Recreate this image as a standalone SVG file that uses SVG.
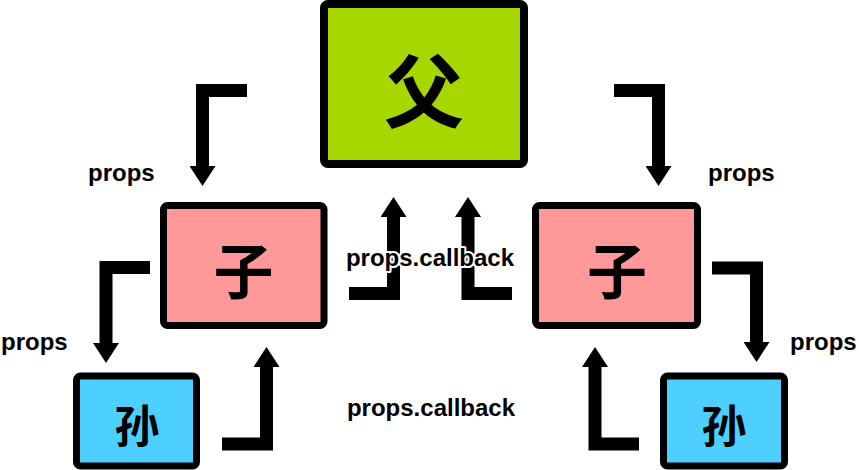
<svg xmlns="http://www.w3.org/2000/svg" width="859" height="470" viewBox="0 0 859 470">
  <style>
    .box { stroke: #000; stroke-width: 7; }
    .parent { fill: #A6D800; stroke-width: 8; }
    .child { fill: #FF9999; }
    .grand { fill: #4DD0FF; }
    .cjk { font-family: "Noto Sans CJK SC", "Noto Sans CJK JP", sans-serif; font-weight: bold; fill: #000; text-anchor: middle; dominant-baseline: central; }
    .lbl { font-family: "Liberation Sans", Arial, sans-serif; font-weight: bold; font-size: 24px; fill: #000; }
    .halo { stroke: #fff; stroke-width: 4; paint-order: stroke; stroke-linejoin: round; }
    .arrow { fill: none; stroke: #000; stroke-width: 13; stroke-linejoin: miter; marker-end: url(#head); }
  </style>
  <defs>
    <marker id="head" viewBox="0 0 20 26" refX="0" refY="13" markerWidth="20" markerHeight="26" markerUnits="userSpaceOnUse" orient="auto">
      <path d="M0,0 L20,13 L0,26 Z" fill="#000"/>
    </marker>
  </defs>
  <rect width="859" height="470" fill="#fff"/>

  <g id="connectors">
    <path class="arrow" d="M247,90.5 H202.5 V166"/>
    <path class="arrow" d="M614,90.5 H658.5 V166"/>
    <path class="arrow" d="M349,293.5 H393.5 V217"/>
    <path class="arrow" d="M512,293.5 H468 V217"/>
    <path class="arrow" d="M150,267.5 H106 V343"/>
    <path class="arrow" d="M222,444 H266.5 V367"/>
    <path class="arrow" d="M639,444 H595 V367"/>
    <path class="arrow" d="M712,268 H756.5 V342"/>
  </g>

  <g id="labels">
    <text class="lbl" x="88" y="181">props</text>
    <text class="lbl" x="708" y="181">props</text>
    <text class="lbl" x="1" y="350">props</text>
    <text class="lbl" x="790" y="350">props</text>
    <text class="lbl halo" x="430" y="266" text-anchor="middle">props.callback</text>
    <text class="lbl" x="431" y="416" text-anchor="middle">props.callback</text>
  </g>

  <g id="parent">
    <rect class="box parent" x="324" y="4" width="200" height="160" rx="4"/>
    <text class="cjk" x="424" y="86" font-size="80">父</text>
  </g>
  <g id="child-left">
    <rect class="box child" x="163.5" y="205.5" width="160.5" height="120" rx="4"/>
    <text class="cjk" x="243.5" y="267" font-size="60">子</text>
  </g>
  <g id="child-right">
    <rect class="box child" x="535.5" y="205.5" width="162" height="120" rx="4"/>
    <text class="cjk" x="617" y="267" font-size="60">子</text>
  </g>
  <g id="grandchild-left">
    <rect class="box grand" x="76.5" y="376" width="120" height="90" rx="4"/>
    <text class="cjk" x="137" y="423" font-size="45">孙</text>
  </g>
  <g id="grandchild-right">
    <rect class="box grand" x="663.5" y="376" width="121" height="90" rx="4"/>
    <text class="cjk" x="724" y="423" font-size="45">孙</text>
  </g>
</svg>
